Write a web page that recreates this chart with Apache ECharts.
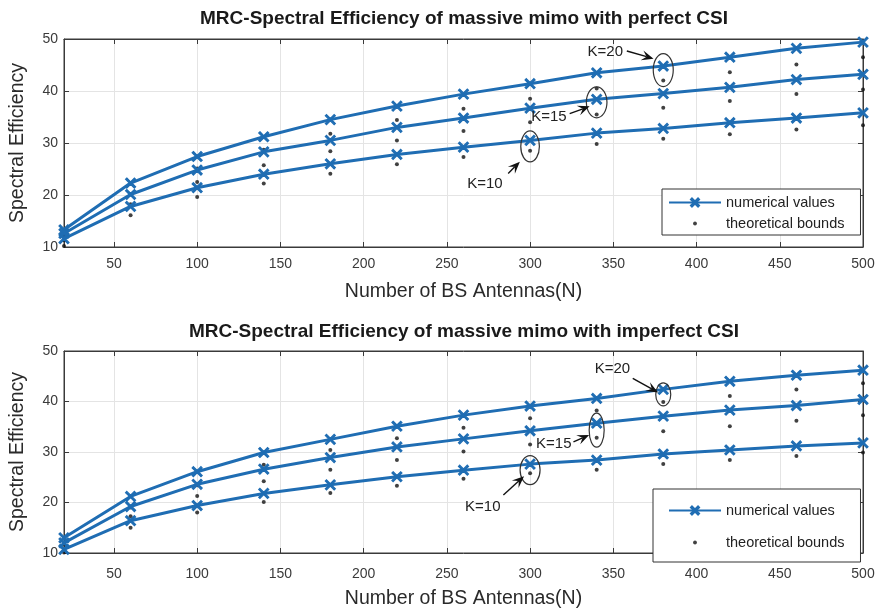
<!DOCTYPE html>
<html><head><meta charset="utf-8">
<script src="https://cdn.jsdelivr.net/npm/echarts@6/dist/echarts.min.js"></script>
<style>html,body{margin:0;padding:0;background:#fff}#c{width:879px;height:610px}</style>
</head><body><div id="c"></div>
<script>
// ---------------- data ----------------
const antennas = [20, 60, 100, 140, 180, 220, 260, 300, 340, 380, 420, 460, 500];

// perfect CSI
const perfectNumK20   = [13.3, 22.3, 27.4, 31.2, 34.5, 37.1, 39.4, 41.4, 43.5, 44.8, 46.5, 48.2, 49.4];
const perfectNumK15   = [12.6, 20.1, 24.8, 28.3, 30.5, 33.0, 34.8, 36.7, 38.4, 39.5, 40.7, 42.2, 43.2];
const perfectNumK10   = [11.6, 17.8, 21.4, 24.0, 26.0, 27.8, 29.2, 30.5, 31.9, 32.8, 33.9, 34.8, 35.8];
const perfectBoundK20 = [12.2, 20.1, 25.1, 28.7, 31.8, 34.4, 36.6, 38.5, 40.5, 42.0, 43.6, 45.1, 46.5];
const perfectBoundK15 = [11.3, 18.2, 22.5, 25.7, 28.4, 30.5, 32.3, 34.0, 35.5, 36.8, 38.1, 39.4, 40.3];
const perfectBoundK10 = [10.2, 16.1, 19.6, 22.2, 24.1, 25.9, 27.3, 28.5, 29.8, 30.8, 31.7, 32.6, 33.4];

// imperfect CSI
const imperfectNumK20   = [13.0, 21.2, 26.1, 29.9, 32.5, 35.1, 37.3, 39.1, 40.6, 42.4, 44.0, 45.2, 46.2];
const imperfectNumK15   = [12.0, 19.2, 23.6, 26.6, 28.9, 31.0, 32.6, 34.2, 35.7, 37.1, 38.3, 39.2, 40.4];
const imperfectNumK10   = [10.7, 16.4, 19.4, 21.8, 23.5, 25.1, 26.4, 27.6, 28.4, 29.6, 30.4, 31.2, 31.8];
const imperfectBoundK20 = [11.8, 19.0, 23.4, 27.5, 30.4, 32.7, 34.8, 36.7, 38.2, 39.9, 41.1, 42.4, 43.6];
const imperfectBoundK15 = [10.9, 17.3, 21.3, 24.2, 26.5, 28.4, 30.1, 31.5, 32.8, 34.1, 35.1, 36.2, 37.3];
const imperfectBoundK10 = [10.1, 15.0, 18.0, 20.1, 21.9, 23.3, 24.7, 25.8, 26.5, 27.6, 28.4, 29.2, 29.9];

const titleTexts = ['MRC-Spectral Efficiency of massive mimo with perfect CSI',
                    'MRC-Spectral Efficiency of massive mimo with imperfect CSI'];
const xAxisName = 'Number of BS Antennas(N)';
const yAxisName = 'Spectral Efficiency';
const legendNames = ['numerical values', 'theoretical bounds'];
const kLabels = ['K=20', 'K=15', 'K=10'];
const annotatedN = [380, 340, 300];

// ---------------- styles ----------------
const FONT = '"Liberation Sans", Arial, Helvetica, sans-serif';
const BLUE = '#1f6db3';
const AXIS = '#3a3a3a';
const GRIDC = '#e4e4e4';
const xMark = 'path://M1.2,0L5,3.8L8.8,0L10,1.2L6.2,5L10,8.8L8.8,10L5,6.2L1.2,10L0,8.8L3.8,5L0,1.2Z';
const dotIcon = 'path://M0,0M10,10M5,3L6.4,3.6L7,5L6.4,6.4L5,7L3.6,6.4L3,5L3.6,3.6Z';

const grids = [
  {left: 63, right: 16, top: 39, height: 208},
  {left: 63, right: 16, top: 351, height: 204}
];
const nameGaps = [35, 36];
const labelMargins = [10, 14];

const numSets = [[perfectNumK20, perfectNumK15, perfectNumK10], [imperfectNumK20, imperfectNumK15, imperfectNumK10]];
const boundSets = [[perfectBoundK20, perfectBoundK15, perfectBoundK10], [imperfectBoundK20, imperfectBoundK15, imperfectBoundK10]];

const pairs = arr => antennas.map((n, i) => [n, arr[i]]);

const xAxes = [], yAxes = [], series = [];
grids.forEach((g, gi) => {
  xAxes.push({
    type: 'value', gridIndex: gi, min: 20, max: 500, minInterval: 50, maxInterval: 50, splitNumber: 10,
    position: 'bottom',
    name: xAxisName, nameLocation: 'middle', nameGap: nameGaps[gi],
    nameTextStyle: {fontSize: 19.5, color: '#2a2a2a', fontFamily: FONT},
    axisLine: {show: true, lineStyle: {color: AXIS, width: 1}},
    axisTick: {show: true, inside: true, length: 5, lineStyle: {color: AXIS}},
    axisLabel: {fontSize: 14, color: '#3a3a3a', fontFamily: FONT, margin: labelMargins[gi], showMinLabel: false},
    splitLine: {show: true, lineStyle: {color: GRIDC, width: 1}}
  });
  xAxes.push({
    type: 'value', gridIndex: gi, min: 20, max: 500, minInterval: 50, maxInterval: 50, splitNumber: 10,
    position: 'top',
    axisLine: {show: true, lineStyle: {color: AXIS, width: 1}},
    axisTick: {show: true, inside: true, length: 5, lineStyle: {color: AXIS}},
    axisLabel: {show: false}, splitLine: {show: false}
  });
  yAxes.push({
    type: 'value', gridIndex: gi, min: 10, max: 50, interval: 10, position: 'left',
    name: yAxisName, nameLocation: 'middle', nameGap: 36,
    nameTextStyle: {fontSize: 19.5, color: '#2a2a2a', fontFamily: FONT},
    axisLine: {show: true, lineStyle: {color: AXIS, width: 1}},
    axisTick: {show: true, inside: true, length: 5, lineStyle: {color: AXIS}},
    axisLabel: {fontSize: 14, color: '#3a3a3a', fontFamily: FONT, margin: 6},
    splitLine: {show: true, lineStyle: {color: GRIDC, width: 1}}
  });
  yAxes.push({
    type: 'value', gridIndex: gi, min: 10, max: 50, interval: 10, position: 'right',
    axisLine: {show: true, lineStyle: {color: AXIS, width: 1}},
    axisTick: {show: true, inside: true, length: 5, lineStyle: {color: AXIS}},
    axisLabel: {show: false}, splitLine: {show: false}
  });
  numSets[gi].forEach(arr => {
    series.push({
      type: 'line', name: legendNames[0], xAxisIndex: gi * 2, yAxisIndex: gi * 2,
      data: pairs(arr), symbol: xMark, symbolSize: 10, showSymbol: true, z: 3,
      lineStyle: {color: BLUE, width: 3}, itemStyle: {color: BLUE, borderColor: BLUE, borderWidth: 1.2},
      animation: false, silent: true
    });
  });
  boundSets[gi].forEach(arr => {
    series.push({
      type: 'scatter', name: legendNames[1], xAxisIndex: gi * 2, yAxisIndex: gi * 2,
      data: pairs(arr), symbol: 'circle', symbolSize: 4, z: 2, clip: false,
      itemStyle: {color: '#111'}, animation: false, silent: true
    });
  });
});

const legendBase = {
  orient: 'vertical', itemWidth: 52, itemHeight: 10,
  borderColor: '#333', borderWidth: 1, backgroundColor: '#fff', borderRadius: 0,
  textStyle: {fontSize: 14.5, color: '#222', fontFamily: FONT},
  data: [{name: legendNames[0]}, {name: legendNames[1], icon: dotIcon}],
  selectedMode: false
};

const option = {
  backgroundColor: '#fff',
  animation: false,
  textStyle: {fontFamily: FONT},
  title: [
    {text: titleTexts[0], left: 464, top: 9.5, textAlign: 'center', padding: 0,
     textStyle: {fontSize: 19, fontWeight: 'bold', color: '#1a1a1a', fontFamily: FONT}},
    {text: titleTexts[1], left: 464, top: 322.5, textAlign: 'center', padding: 0,
     textStyle: {fontSize: 19, fontWeight: 'bold', color: '#1a1a1a', fontFamily: FONT}}
  ],
  legend: [
    Object.assign({}, legendBase, {left: 662, top: 189, itemGap: 6, padding: [6, 16, 4, 6]}),
    Object.assign({}, legendBase, {left: 653, top: 489, itemGap: 17, padding: [14, 16, 12, 15]})
  ],
  grid: grids.map(g => Object.assign({show: true, borderColor: AXIS, borderWidth: 1, backgroundColor: '#fff'}, g)),
  xAxis: xAxes,
  yAxis: yAxes,
  series: series
};

const chart = echarts.init(document.getElementById('c'), null, {renderer: 'canvas'});
chart.setOption(option);

// ---------------- annotations (anchored to data points) ----------------
const annoStyle = [
  // grid 0
  [{dy: 4, rx: 10, ry: 16.5, t: [-58, -18], a: [-36.4, -19, -9.7, -11.4]},
   {dy: 3, rx: 10.3, ry: 15.5, t: [-47.7, 14.7], a: [-27, 11.3, -7, 4]},
   {dy: 6, rx: 9.3, ry: 15.5, t: [-45.2, 37], a: [-21.9, 27, -10.2, 15.4]}],
  // grid 1
  [{dy: 5, rx: 7.5, ry: 11.5, t: [-50.8, -25.3], a: [-30.5, -16, -5.2, -2]},
   {dy: 7, rx: 7.5, ry: 17, t: [-42.9, 13.7], a: [-23.2, 11.7, -7.5, 4.7]},
   {dy: 6, rx: 10, ry: 14.5, t: [-47.3, 37.1], a: [-26.7, 24.8, -6, 6.1]}]
];

const graphics = [];
function arrow(x1, y1, x2, y2) {
  const dx = x2 - x1, dy = y2 - y1, len = Math.hypot(dx, dy);
  const ux = dx / len, uy = dy / len, nx = -uy, ny = ux;
  const L = 12, W = 5;
  const bx = x2 - ux * L, by = y2 - uy * L;
  const ix = x2 - ux * L * 0.6, iy = y2 - uy * L * 0.6;
  graphics.push({type: 'line', shape: {x1: x1, y1: y1, x2: ix, y2: iy}, style: {stroke: '#111', lineWidth: 1.4}, z: 20, silent: true});
  graphics.push({type: 'polygon', shape: {points: [[x2, y2], [bx + nx * W, by + ny * W], [ix, iy], [bx - nx * W, by - ny * W]]},
                 style: {fill: '#111'}, z: 20, silent: true});
}
[0, 1].forEach(gi => {
  annotatedN.forEach((n, k) => {
    const idx = antennas.indexOf(n);
    const p = chart.convertToPixel({seriesIndex: gi * 6 + k}, [n, numSets[gi][k][idx]]);
    const s = annoStyle[gi][k];
    const cx = p[0], cy = p[1] + s.dy;
    graphics.push({type: 'ellipse', shape: {cx: cx, cy: cy, rx: s.rx, ry: s.ry},
                   style: {fill: 'none', stroke: '#333', lineWidth: 1.2}, z: 20, silent: true});
    graphics.push({type: 'text', x: cx + s.t[0], y: cy + s.t[1], z: 20, silent: true,
                   style: {text: kLabels[k], font: '15px ' + FONT, fill: '#222', align: 'center', verticalAlign: 'middle'}});
    arrow(cx + s.a[0], cy + s.a[1], cx + s.a[2], cy + s.a[3]);
  });
});
chart.setOption({graphic: graphics});
</script>
</body></html>
